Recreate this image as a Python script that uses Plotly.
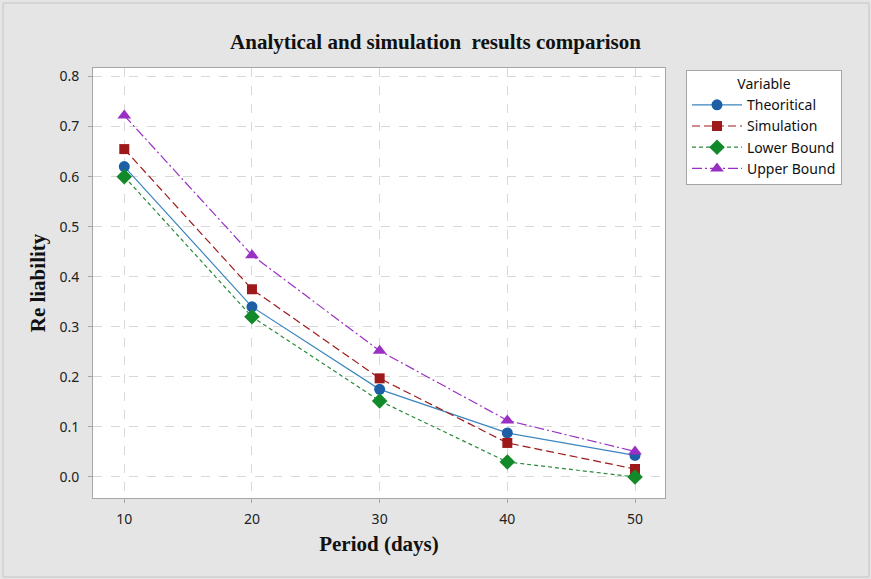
import plotly.graph_objects as go

period = [10, 20, 30, 40, 50]
theoretical = [0.620, 0.340, 0.175, 0.088, 0.043]
simulation = [0.655, 0.375, 0.197, 0.068, 0.016]
lower_bound = [0.600, 0.320, 0.152, 0.030, 0.000]
upper_bound = [0.722, 0.443, 0.252, 0.113, 0.051]

y_ticks = [0.0, 0.1, 0.2, 0.3, 0.4, 0.5, 0.6, 0.7, 0.8]
x_ticks = [10, 20, 30, 40, 50]

series = [
    ("Theoritical", theoretical, "#1d5fa6", "#3a85c0", "circle", 11, "solid"),
    ("Simulation", simulation, "#9e1a1a", "#9e1a1a", "square", 10, "8px,4px"),
    ("Lower Bound", lower_bound, "#138a2a", "#2a8a3a", "diamond", 12, "4px,3px"),
    ("Upper Bound", upper_bound, "#9a2fc4", "#9a2fc4", "triangle-up", 12, "10px,3px,2px,3px"),
]

W, H = 871, 579
L, R, T, B = 93, 206, 68, 81
pw, ph = W - L - R, H - T - B

fig = go.Figure()
for name, vals, mcol, lcol, sym, size, dash in series:
    fig.add_trace(go.Scatter(
        x=period, y=vals, name=name, mode="lines+markers",
        line=dict(color=lcol, width=1.2, dash=dash),
        marker=dict(symbol=sym, size=size, color=mcol, line=dict(width=0)),
    ))

axis_common = dict(
    showline=True, linecolor="#a6a6a6", linewidth=1, mirror=True,
    ticks="outside", ticklen=4, tickcolor="#a6a6a6",
    showgrid=True, gridcolor="#d8d8d8", griddash="dash", gridwidth=1,
    zeroline=False,
    tickfont=dict(family="Noto Sans", size=14, color="#222222"),
)

title_font = dict(family="Liberation Serif", size=21, color="#111111")

fig.update_layout(
    width=W, height=H,
    paper_bgcolor="#e5e5e5", plot_bgcolor="#ffffff",
    margin=dict(l=L, r=R, t=T, b=B),
    title=dict(text="<b>Analytical and simulation  results comparison</b>",
               x=0.5, xref="container", xanchor="center", y=1 - 42 / H, yanchor="middle",
               font=title_font),
    xaxis=dict(range=[7.55, 52.35], tickvals=x_ticks, ticklabelstandoff=4,
               title=dict(text="<b>Period (days)</b>", standoff=9, font=title_font),
               **axis_common),
    yaxis=dict(range=[-0.042, 0.817], tickvals=y_ticks, tickformat=".1f", ticklabelstandoff=6,
               title=dict(text="<b>Re liability</b>", standoff=8, font=title_font),
               **axis_common),
    legend=dict(
        x=(686 - L) / pw, y=1 - 2 / ph, xanchor="left", yanchor="top",
        bgcolor="#ffffff", bordercolor="#a6a6a6", borderwidth=1,
        font=dict(family="Noto Sans", size=14, color="#111111"),
        title=dict(text="Variable", side="top center",
                   font=dict(family="Noto Sans", size=14, color="#111111")),
        itemwidth=50, tracegroupgap=0,
    ),
    shapes=[dict(type="rect", xref="paper", yref="paper",
                 x0=(3 - L) / pw, x1=(869 - L) / pw,
                 y0=(H - B - 577) / ph, y1=(H - B - 3) / ph,
                 line=dict(color="#c4c4c4", width=1), fillcolor="rgba(0,0,0,0)",
                 layer="below")],
    showlegend=True,
)

fig.write_html("out.html", config={"displayModeBar": False},
               post_script="document.body.style.margin='0px';")
